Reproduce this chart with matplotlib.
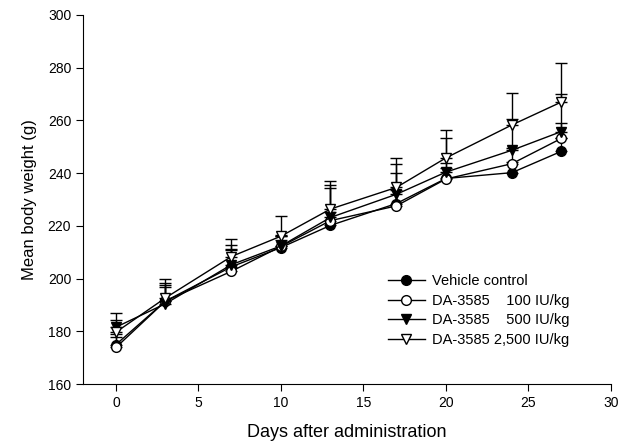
import matplotlib
matplotlib.use("Agg")
import matplotlib.pyplot as plt
import numpy as np

plt.rcParams['font.family'] = ['Liberation Sans', 'DejaVu Sans']

# data
days = [0, 3, 7, 10, 13, 17, 20, 24, 27]

vehicle = [175, 191.5, 204.5, 211.8, 220.2, 228.5, 238, 240.2, 248.3]
vehicle_err = [4, 5.2, 6.4, 3, 5, 5, 4, 4, 5]

dose100 = [173.9, 191.5, 202.8, 212.2, 222, 227.6, 237.8, 243.6, 253.2]
dose100_err = [4, 6, 8.3, 4, 12.3, 12.6, 6, 6, 6]

dose500 = [181.6, 190.5, 205.3, 212.4, 223.2, 232, 240.4, 248.7, 255.8]
dose500_err = [5.5, 7.7, 7.6, 4, 12.4, 11.5, 12.8, 11.8, 14.2]

dose2500 = [179.7, 192.7, 208.4, 216.1, 226.4, 234.6, 245.8, 258.3, 267]
dose2500_err = [4.5, 7.1, 6.7, 7.7, 10.5, 11.2, 10.6, 12.2, 14.7]

labels = ['Vehicle control', 'DA-3585    100 IU/kg', 'DA-3585    500 IU/kg', 'DA-3585 2,500 IU/kg']

fig = plt.figure(figsize=(6.3, 4.41), dpi=100)
ax = fig.add_axes([0.1317, 0.129, 0.838, 0.837])

series = [(vehicle, vehicle_err, 'o', 'black'),
          (dose100, dose100_err, 'o', 'white'),
          (dose500, dose500_err, 'v', 'black'),
          (dose2500, dose2500_err, 'v', 'white')]

for (vals, err, mk, fc), lab in zip(series, labels):
    ax.errorbar(days, vals, yerr=[np.zeros(len(err)), err], color='black',
                marker=mk, markerfacecolor=fc, markeredgecolor='black',
                markersize=7, linewidth=1.0, elinewidth=1.0, capsize=4,
                capthick=1.0, label=lab)

ax.set_xlim(-2, 30)
ax.set_ylim(160, 300)
ax.set_xticks([0, 5, 10, 15, 20, 25, 30])
ax.set_yticks(range(160, 301, 20))
ax.spines['top'].set_visible(False)
ax.spines['right'].set_visible(False)
ax.tick_params(direction='out', length=5, labelsize=10)
ax.set_xlabel('Days after administration', fontsize=13, labelpad=10)
ax.set_ylabel('Mean body weight (g)', fontsize=12, labelpad=8)

handles, labs = ax.get_legend_handles_labels()
handles = [h[0] for h in handles]
ax.legend(handles, labs, loc='upper left', bbox_to_anchor=(375 / 630, 1 - 261 / 441),
          bbox_transform=fig.transFigure, frameon=False, fontsize=10.5,
          handlelength=2.5, handletextpad=0.5, labelspacing=0.38)

fig.savefig('out.png', dpi=100)
